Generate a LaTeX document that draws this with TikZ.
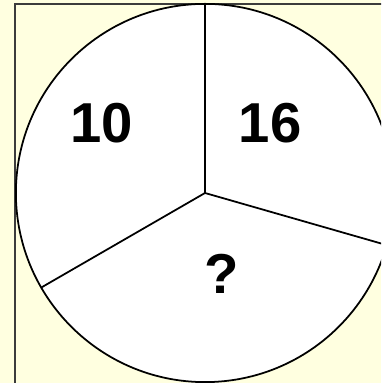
\documentclass[tikz,border=0pt]{standalone}
\usepackage{fontspec}
\setmainfont{Liberation Sans}
\usetikzlibrary{calc}
\definecolor{paper}{RGB}{255,255,224}
\definecolor{frame}{RGB}{60,60,60}

\begin{document}
\begin{tikzpicture}[x=0.01cm, y=0.01cm,
  num/.style={font=\fontsize{16}{19}\selectfont\bfseries},
  spoke/.style={draw=black, line width=0.5pt}
]
  \clip (0,0) rectangle (381,383);
  \fill[paper] (0,0) rectangle (381,383);
  \draw[frame, line width=0.8pt] (15,-20) |- (400,379);

  \coordinate (c) at (205,190);
  \draw[fill=white, line width=0.5pt] (c) circle[radius=1.89cm];
  \coordinate (up) at ($(c)+(90:1.89cm)$);
  \coordinate (rt) at ($(c)+(-16:1.89cm)$);
  \coordinate (lf) at ($(c)+(210:1.89cm)$);

  \draw[spoke] (c) -- (up);
  \draw[spoke] (c) -- (rt);
  \draw[spoke] (c) -- (lf);

  \node[num] (ten) at (102,260) {10};
  \node[num] (sixteen) at (270,260) {16};
  \node[num] (ask) at (222,109) {?};
\end{tikzpicture}
\end{document}
